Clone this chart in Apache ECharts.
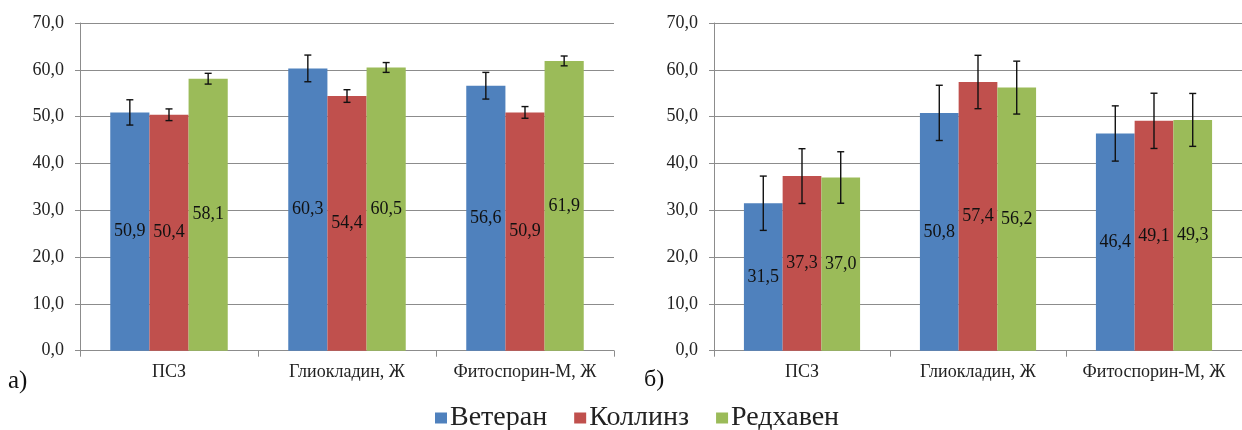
<!DOCTYPE html>
<html><head><meta charset="utf-8">
<script src="https://cdn.jsdelivr.net/npm/echarts@6/dist/echarts.min.js"></script>
<style>html,body{margin:0;padding:0;background:#fff;font-family:"Liberation Serif",serif}#c{width:1242px;height:430px}</style>
</head><body><div id="c"></div>
<script>
const categories = ['ПСЗ', 'Глиокладин, Ж', 'Фитоспорин-М, Ж'];
const seriesNames = ['Ветеран', 'Коллинз', 'Редхавен'];
const yTicks = [0, 10, 20, 30, 40, 50, 60, 70];
// panel a)
const aVeteran = [50.9, 60.3, 56.6];
const aCollins = [50.4, 54.4, 50.9];
const aRedhaven = [58.1, 60.5, 61.9];
const aErrVeteran = [2.7, 2.85, 2.85];
const aErrCollins = [1.25, 1.35, 1.25];
const aErrRedhaven = [1.15, 1.05, 1.05];
// panel б)
const bVeteran = [31.5, 50.8, 46.4];
const bCollins = [37.3, 57.4, 49.1];
const bRedhaven = [37.0, 56.2, 49.3];
const bErrVeteran = [5.8, 5.9, 5.9];
const bErrCollins = [5.85, 5.7, 5.9];
const bErrRedhaven = [5.5, 5.65, 5.65];

const colors = ['#4F81BD', '#C0504D', '#9BBB59'];
const FONT = 'Liberation Serif';
const CAT_GAP = 0.34;

const chart = echarts.init(document.getElementById('c'));
const fmt = v => Number(v).toFixed(1).replace('.', ',');

function grid(left) { return { left: left, top: 23, width: 534, height: 327.7 }; }
function xAx(gi) {
  return {
    type: 'category', gridIndex: gi, data: categories,
    axisLine: { lineStyle: { color: '#8c8c8c', width: 1 } },
    axisTick: { show: true, length: 6, lineStyle: { color: '#8c8c8c' } },
    axisLabel: { interval: 0, fontFamily: FONT, fontSize: 18, color: '#222', margin: 13 }
  };
}
function yAx(gi) {
  return {
    type: 'value', gridIndex: gi, min: yTicks[0], max: yTicks[yTicks.length - 1], interval: 10,
    axisLine: { show: true, lineStyle: { color: '#8c8c8c' } },
    axisTick: { show: true, length: 5, lineStyle: { color: '#8c8c8c' } },
    splitLine: { lineStyle: { color: '#8c8c8c', width: 1 } },
    axisLabel: { fontFamily: FONT, fontSize: 18, color: '#222', margin: 16, formatter: fmt }
  };
}
function barS(name, data, gi, k) {
  return {
    name: name, type: 'bar', xAxisIndex: gi, yAxisIndex: gi, data: data,
    barGap: '0%', barCategoryGap: (CAT_GAP * 100) + '%',
    itemStyle: { color: colors[k] },
    label: { show: true, position: 'inside', fontFamily: FONT, fontSize: 18, color: '#111', formatter: p => fmt(p.value) }
  };
}
function errS(vals, errs, gi, k) {
  return {
    type: 'custom', xAxisIndex: gi, yAxisIndex: gi, z: 10,
    encode: { x: 0, y: 1 },
    data: vals.map((v, i) => [i, v, errs[i]]),
    renderItem: function (params, api) {
      const x = api.value(0), y = api.value(1), e = api.value(2);
      const top = api.coord([x, y + e]);
      const bot = api.coord([x, y - e]);
      const bw = api.size([1, 0])[0] * (1 - CAT_GAP) / 3;
      const cx = top[0] + (k - 1) * bw;
      const h = 3.5;
      const st = { stroke: '#111', lineWidth: 1.4 };
      return { type: 'group', children: [
        { type: 'line', shape: { x1: cx, y1: top[1], x2: cx, y2: bot[1] }, style: st },
        { type: 'line', shape: { x1: cx - h, y1: top[1], x2: cx + h, y2: top[1] }, style: st },
        { type: 'line', shape: { x1: cx - h, y1: bot[1], x2: cx + h, y2: bot[1] }, style: st }
      ] };
    }
  };
}

chart.setOption({
  animation: false,
  color: colors,
  textStyle: { fontFamily: FONT },
  grid: [grid(80), grid(714)],
  xAxis: [xAx(0), xAx(1)],
  yAxis: [yAx(0), yAx(1)],
  legend: {
    data: seriesNames, left: 435, top: 404, padding: 0, icon: 'rect', itemWidth: 12, itemHeight: 11, itemGap: 27,
    textStyle: { fontFamily: FONT, fontSize: 28, color: '#222', padding: [0, 0, 0, -2] }
  },
  graphic: [
    { type: 'text', left: 8, top: 369, style: { text: 'а)', fontFamily: FONT, fontSize: 25, fill: '#111' } },
    { type: 'text', left: 644, top: 368, style: { text: 'б)', fontFamily: FONT, fontSize: 24, fill: '#111' } }
  ],
  series: [
    barS(seriesNames[0], aVeteran, 0, 0),
    barS(seriesNames[1], aCollins, 0, 1),
    barS(seriesNames[2], aRedhaven, 0, 2),
    barS(seriesNames[0], bVeteran, 1, 0),
    barS(seriesNames[1], bCollins, 1, 1),
    barS(seriesNames[2], bRedhaven, 1, 2),
    errS(aVeteran, aErrVeteran, 0, 0),
    errS(aCollins, aErrCollins, 0, 1),
    errS(aRedhaven, aErrRedhaven, 0, 2),
    errS(bVeteran, bErrVeteran, 1, 0),
    errS(bCollins, bErrCollins, 1, 1),
    errS(bRedhaven, bErrRedhaven, 1, 2)
  ]
});
</script></body></html>
